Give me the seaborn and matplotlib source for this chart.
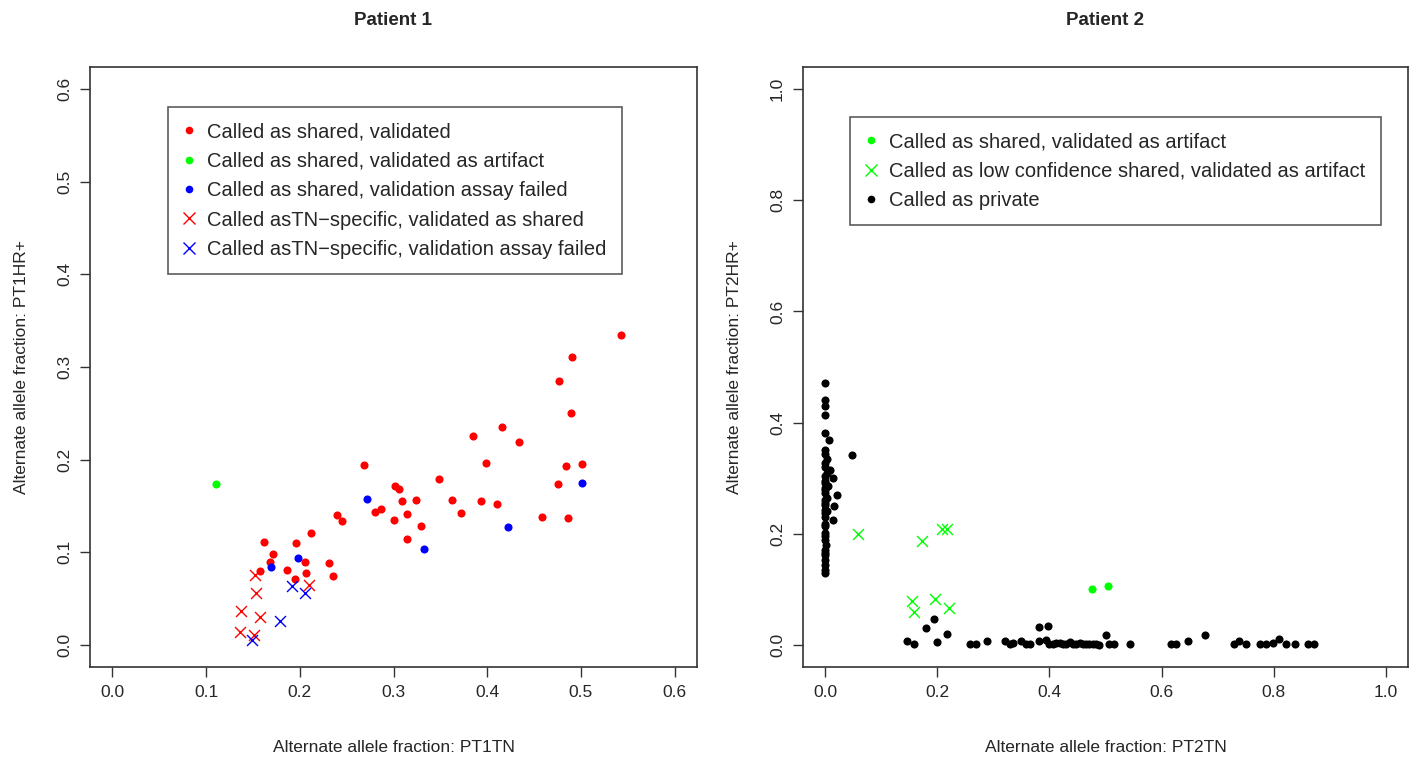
import numpy as np
import pandas as pd
import matplotlib
matplotlib.use("Agg")
import matplotlib.pyplot as plt
import seaborn as sns
from matplotlib.lines import Line2D

sns.set_style("white")
plt.rcParams['font.family'] = ['Liberation Sans', 'DejaVu Sans']

# ---------------- Patient 1 data ----------------
p1_red_dot_x = [0.491, 0.477, 0.489, 0.385, 0.416, 0.434, 0.399, 0.268, 0.484, 0.501,
                0.349, 0.476, 0.302, 0.306, 0.324, 0.309, 0.362, 0.393, 0.411, 0.287,
                0.280, 0.372, 0.301, 0.314, 0.459, 0.486, 0.329, 0.314, 0.240, 0.245,
                0.212, 0.162, 0.196, 0.171, 0.168, 0.206, 0.231, 0.157, 0.186, 0.207,
                0.235, 0.195, 0.543]
p1_red_dot_y = [0.311, 0.285, 0.250, 0.226, 0.235, 0.219, 0.196, 0.194, 0.193, 0.195,
                0.179, 0.174, 0.172, 0.168, 0.156, 0.155, 0.156, 0.155, 0.152, 0.147,
                0.143, 0.142, 0.135, 0.141, 0.138, 0.137, 0.128, 0.114, 0.140, 0.134,
                0.121, 0.111, 0.110, 0.098, 0.089, 0.089, 0.088, 0.080, 0.081, 0.078,
                0.074, 0.071, 0.335]

p1_green_dot_x = [0.111]
p1_green_dot_y = [0.174]

p1_blue_dot_x = [0.272, 0.501, 0.422, 0.333, 0.198, 0.169]
p1_blue_dot_y = [0.157, 0.175, 0.127, 0.103, 0.094, 0.084]

p1_red_x_x = [0.152, 0.153, 0.137, 0.157, 0.136, 0.151, 0.210]
p1_red_x_y = [0.075, 0.056, 0.037, 0.030, 0.014, 0.011, 0.065]

p1_blue_x_x = [0.192, 0.205, 0.179, 0.149]
p1_blue_x_y = [0.063, 0.056, 0.026, 0.005]

p1_labels = ["Called as shared, validated",
             "Called as shared, validated as artifact",
             "Called as shared, validation assay failed",
             "Called asTN\u2212specific, validated as shared",
             "Called asTN\u2212specific, validation assay failed"]

# ---------------- Patient 2 data ----------------
p2_green_dot_x = [0.476, 0.504]
p2_green_dot_y = [0.100, 0.105]

p2_green_x_x = [0.059, 0.172, 0.209, 0.217, 0.154, 0.158, 0.195, 0.220]
p2_green_x_y = [0.199, 0.187, 0.209, 0.208, 0.078, 0.059, 0.082, 0.066]

p2_col_x = [0.0, 0.0, 0.0, 0.0, 0.0, 0.006, 0.0, 0.0, 0.0, 0.009,
            0.0, 0.014, 0.0, 0.0, 0.0, 0.021, 0.0, 0.0, 0.015, 0.0,
            0.0, 0.013, 0.0, 0.0, 0.0, 0.0, 0.0, 0.0, 0.0, 0.0,
            0.0, 0.002, 0.0, 0.003, 0.0, 0.004, 0.0, 0.002, 0.0, 0.003,
            0.0, 0.0, 0.0, 0.001, 0.0, 0.048]
p2_col_y = [0.471, 0.441, 0.429, 0.414, 0.381, 0.369, 0.351, 0.343, 0.327, 0.315,
            0.303, 0.300, 0.291, 0.282, 0.273, 0.270, 0.261, 0.255, 0.249, 0.243,
            0.237, 0.225, 0.213, 0.201, 0.195, 0.171, 0.162, 0.153, 0.144, 0.135,
            0.129, 0.335, 0.320, 0.310, 0.295, 0.285, 0.278, 0.265, 0.252, 0.240,
            0.230, 0.218, 0.188, 0.180, 0.166, 0.341]

p2_low_x = [0.145, 0.158, 0.179, 0.194, 0.199, 0.217, 0.258, 0.269, 0.289, 0.320,
            0.329, 0.335, 0.349, 0.358, 0.366, 0.382, 0.398, 0.382, 0.394, 0.400,
            0.406, 0.412, 0.418, 0.424, 0.430, 0.436, 0.442, 0.448, 0.454, 0.460,
            0.465, 0.471, 0.477, 0.483, 0.489, 0.500, 0.507, 0.516, 0.544, 0.617,
            0.626, 0.648, 0.677, 0.729, 0.739, 0.751, 0.775, 0.787, 0.799, 0.809,
            0.823, 0.838, 0.862, 0.873]
p2_low_y = [0.006, 0.001, 0.031, 0.047, 0.005, 0.019, 0.001, 0.002, 0.007, 0.006,
            0.002, 0.003, 0.007, 0.002, 0.001, 0.032, 0.034, 0.006, 0.009, 0.002,
            0.001, 0.004, 0.003, 0.001, 0.002, 0.005, 0.001, 0.002, 0.003, 0.001,
            0.002, 0.001, 0.002, 0.001, 0.000, 0.017, 0.001, 0.002, 0.001, 0.001,
            0.002, 0.006, 0.017, 0.001, 0.007, 0.002, 0.001, 0.002, 0.003, 0.011,
            0.001, 0.002, 0.002, 0.001]

p2_labels = ["Called as shared, validated as artifact",
             "Called as low confidence shared, validated as artifact",
             "Called as private"]

RED, GREEN, BLUE, BLACK = "#FF0000", "#00FF00", "#0000FF", "#000000"
DOT_S = 34
X_S = 62

fig = plt.figure(figsize=(14.17, 7.59), dpi=100)
ax1 = fig.add_axes([90/1417, 92/759, 607/1417, 600/759])
ax2 = fig.add_axes([803/1417, 92/759, 605/1417, 600/759])


def dots(ax, x, y, color):
    sns.scatterplot(x=x, y=y, ax=ax, color=color, s=DOT_S, marker="o",
                    edgecolor=color, linewidth=0, legend=False, zorder=3)


def crosses(ax, x, y, color):
    sns.scatterplot(x=x, y=y, ax=ax, color=color, s=X_S, marker="x",
                    linewidth=1.0, legend=False, zorder=3)


dots(ax1, p1_red_dot_x, p1_red_dot_y, RED)
dots(ax1, p1_green_dot_x, p1_green_dot_y, GREEN)
dots(ax1, p1_blue_dot_x, p1_blue_dot_y, BLUE)
crosses(ax1, p1_red_x_x, p1_red_x_y, RED)
crosses(ax1, p1_blue_x_x, p1_blue_x_y, BLUE)

dots(ax2, p2_col_x, p2_col_y, BLACK)
dots(ax2, p2_low_x, p2_low_y, BLACK)
dots(ax2, p2_green_dot_x, p2_green_dot_y, GREEN)
crosses(ax2, p2_green_x_x, p2_green_x_y, GREEN)


def style(ax, lim, ticks, title, xlabel, ylabel):
    pad = 0.04 * lim
    ax.set_xlim(-pad, lim + pad)
    ax.set_ylim(-pad, lim + pad)
    ax.set_xticks(ticks)
    ax.set_yticks(ticks)
    ax.set_xticklabels([f"{t:.1f}" for t in ticks], fontsize=12.5)
    ax.set_yticklabels([f"{t:.1f}" for t in ticks], fontsize=12.5, rotation=90, va="center")
    ax.tick_params(axis="both", direction="out", length=7, width=1, color="#333333",
                   pad=6, bottom=True, left=True)
    for sp in ax.spines.values():
        sp.set_visible(True)
        sp.set_color("#333333")
        sp.set_linewidth(1.2)
    ax.set_title(title, fontsize=13.5, fontweight="bold", pad=30)
    ax.set_xlabel(xlabel, fontsize=12.5, labelpad=29)
    ax.set_ylabel(ylabel, fontsize=12.5, labelpad=20)


style(ax1, 0.6, [0.0, 0.1, 0.2, 0.3, 0.4, 0.5, 0.6], "Patient 1",
      "Alternate allele fraction: PT1TN", "Alternate allele fraction: PT1HR+")
style(ax2, 1.0, [0.0, 0.2, 0.4, 0.6, 0.8, 1.0], "Patient 2",
      "Alternate allele fraction: PT2TN", "Alternate allele fraction: PT2HR+")


def handle(color, marker):
    if marker == "o":
        return Line2D([], [], linestyle="", marker="o", color=color, markersize=5.5,
                      markeredgewidth=0)
    return Line2D([], [], linestyle="", marker="x", color=color, markersize=8,
                  markeredgewidth=1.0)


h1 = [handle(RED, "o"), handle(GREEN, "o"), handle(BLUE, "o"),
      handle(RED, "x"), handle(BLUE, "x")]
h2 = [handle(GREEN, "o"), handle(GREEN, "x"), handle(BLACK, "o")]

for ax, hs, labs, x0, y0 in [(ax1, h1, p1_labels, (168 - 90) / 607, (667 - 107) / 600),
                             (ax2, h2, p2_labels, (850 - 803) / 605, (667 - 117) / 600)]:
    leg = ax.legend(hs, labs, loc="upper left", bbox_to_anchor=(x0, y0),
                    borderaxespad=0, fontsize=14.5, frameon=True, fancybox=False,
                    edgecolor="#333333", handlelength=0.6, handletextpad=0.6,
                    borderpad=0.75, labelspacing=0.52)
    leg.get_frame().set_linewidth(1.2)

fig.savefig("out.png", dpi=100, facecolor="white")
